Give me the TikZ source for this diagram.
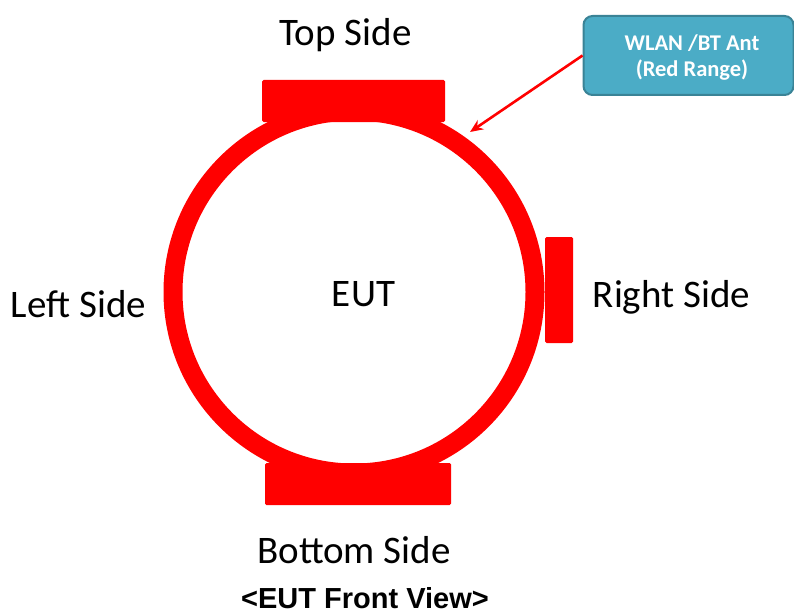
\documentclass[tikz,border=0pt]{standalone}
\usepackage{fontspec}
\setmainfont{Carlito}
\newfontfamily\arialfont{Liberation Sans}
\usetikzlibrary{arrows.meta}
\definecolor{boxfill}{HTML}{4BACC6}
\definecolor{boxedge}{HTML}{3A8396}
\tikzset{
  sidelabel/.style={anchor=base, inner sep=0pt, font=\fontsize{39}{47}\selectfont},
  tab/.style={fill=red, draw=none, rounded corners=1.5pt},
  callout/.style={fill=boxfill, draw=boxedge, line width=2pt, rounded corners=9pt},
  calltext/.style={anchor=base, inner sep=0pt, text=white, font=\fontsize{22.5}{27}\selectfont\bfseries},
}
\begin{document}
\begin{tikzpicture}[x=1pt,y=-1pt]
\useasboundingbox (0,0) rectangle (794,615);
% ring
\node[circle, draw=red, line width=19pt, minimum size=362pt, inner sep=0pt] (ring) at (354,292) {};
% tabs
\fill[tab] (262,80) rectangle (445,122);
\fill[tab] (265,463) rectangle (451,505);
\fill[tab] (545,237) rectangle (573,343);
% labels
\node[sidelabel] (top) at (345.5,46) {Top Side};
\node[sidelabel] (bottom) at (354,563) {Bottom Side};
\node[sidelabel] (left) at (78.5,317) {Left Side};
\node[sidelabel] (right) at (671.5,307) {Right Side};
\node[sidelabel] (eut) at (363.5,306) {EUT};
\node[anchor=base, inner sep=0pt, text depth=0pt, font=\arialfont\bfseries\fontsize{29}{34}\selectfont] (title) at (365,608) {<EUT Front View>};
% callout
\node[callout, minimum width=210pt, minimum height=79pt, inner sep=0pt] (box) at (688.5,55.5) {};
\node[calltext] (l1) at (692,51) {WLAN /BT Ant};
\node[calltext] (l2) at (692,77) {(Red Range)};
\coordinate (tip) at (470,132);
\draw[red, line width=2.6pt, -{Stealth[length=13pt,width=11pt]}] (box.west) -- (tip);
\end{tikzpicture}
\end{document}
